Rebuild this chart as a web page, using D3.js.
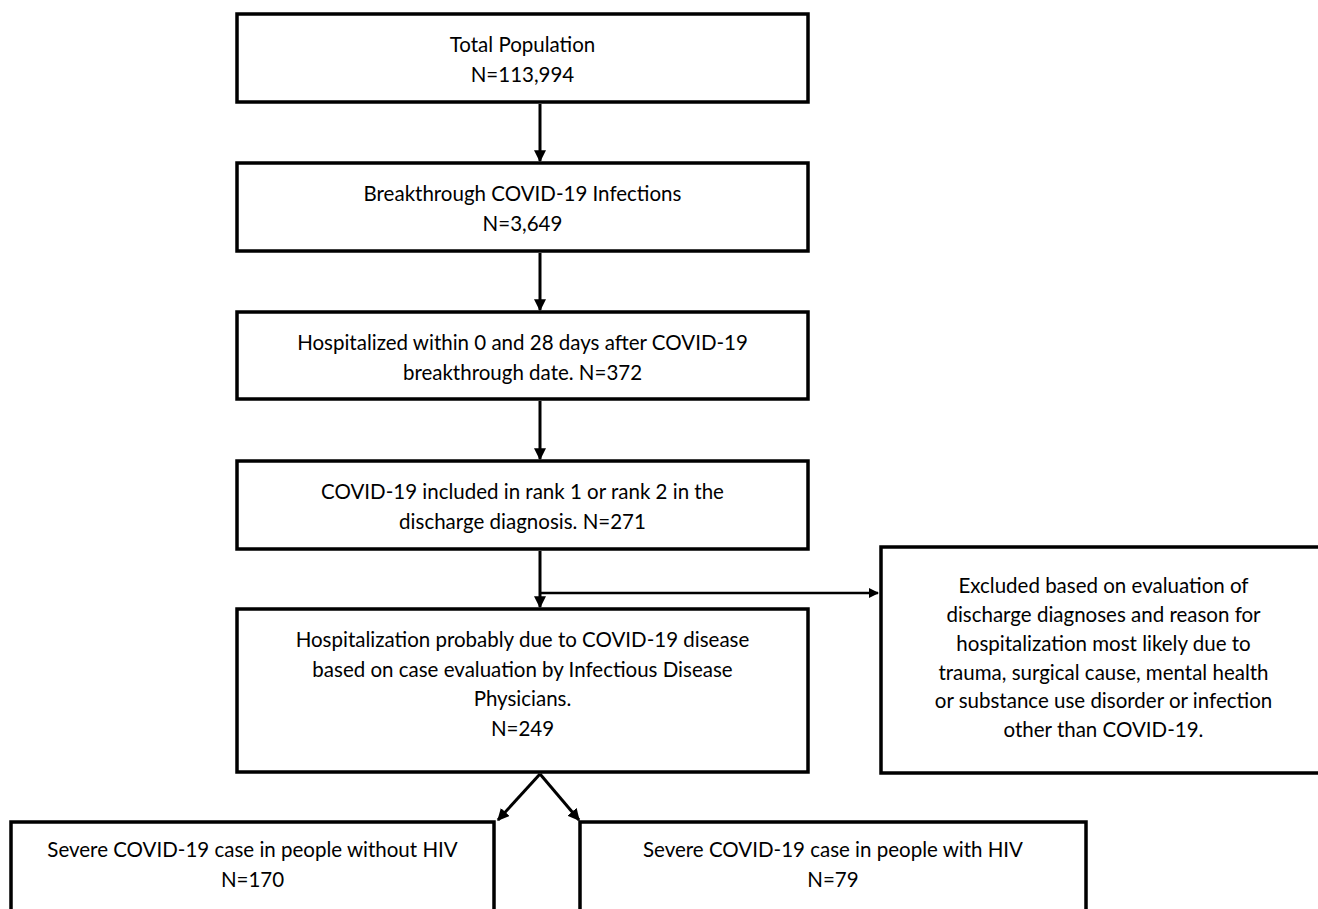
<!DOCTYPE html>
<html>
<head>
<meta charset="utf-8">
<script src="https://cdn.jsdelivr.net/npm/d3@7"></script>
<style>
  body { margin: 0; background: #fff; }
  text { font-family: Lato, sans-serif; font-size: 20.5px; fill: #000; }
</style>
</head>
<body>
<script>
// box texts, one entry per line
const mainSteps = [
  ["Total Population", "N=113,994"],
  ["Breakthrough COVID-19 Infections", "N=3,649"],
  ["Hospitalized within 0 and 28 days after COVID-19", "breakthrough date. N=372"],
  ["COVID-19 included in rank 1 or rank 2 in the", "discharge diagnosis. N=271"],
  ["Hospitalization probably due to COVID-19 disease", "based on case evaluation by Infectious Disease", "Physicians.", "N=249"]
];
const excluded = ["Excluded based on evaluation of", "discharge diagnoses and reason for",
  "hospitalization most likely due to", "trauma, surgical cause, mental health",
  "or substance use disorder or infection", "other than COVID-19."];
const outcomes = [
  ["Severe COVID-19 case in people without HIV", "N=170"],
  ["Severe COVID-19 case in people with HIV", "N=79"]
];

const W = 1318, H = 909;
const svg = d3.select("body").append("svg").attr("width", W).attr("height", H);

svg.append("defs").append("marker")
  .attr("id", "arr").attr("viewBox", "0 0 10 10").attr("refX", 9).attr("refY", 5)
  .attr("markerWidth", 4).attr("markerHeight", 4).attr("orient", "auto")
  .append("path").attr("d", "M0,0L10,5L0,10z").attr("fill", "#000");

function box(x, y, w, h, lines, firstY, step) {
  svg.append("rect").attr("x", x).attr("y", y).attr("width", w).attr("height", h)
    .attr("fill", "#fff").attr("stroke", "#000").attr("stroke-width", 3.5);
  svg.append("g").selectAll("text").data(lines).join("text")
    .attr("x", x + w / 2).attr("y", (d, i) => firstY + i * step)
    .attr("text-anchor", "middle").attr("dominant-baseline", "middle").text(d => d);
}
function arrow(x1, y1, x2, y2) {
  svg.append("line").attr("x1", x1).attr("y1", y1).attr("x2", x2).attr("y2", y2)
    .attr("stroke", "#000").attr("stroke-width", 3).attr("marker-end", "url(#arr)");
}

const cx = 540;
const tops = [14, 163, 312, 461, 609];
const heights = [88, 88, 87, 88, 163];
mainSteps.forEach((lines, i) => {
  box(237, tops[i], 571, heights[i], lines, tops[i] + 33, 29.5);
  if (i > 0) arrow(cx, tops[i - 1] + heights[i - 1] + 2, cx, tops[i] - 2);
});
// side branch to the exclusion box
svg.append("line").attr("x1", cx).attr("y1", 593).attr("x2", 878).attr("y2", 593)
  .attr("stroke", "#000").attr("stroke-width", 2.5).attr("marker-end", "url(#arr)");
box(881, 547, 445, 226, excluded, 588, 28.8);

// split into the two outcome groups
arrow(cx, 774, 498, 820);
arrow(cx, 774, 579, 820);
box(11, 822, 483, 120, outcomes[0], 852, 30);
box(580, 822, 506, 120, outcomes[1], 852, 30);
</script>
</body>
</html>
